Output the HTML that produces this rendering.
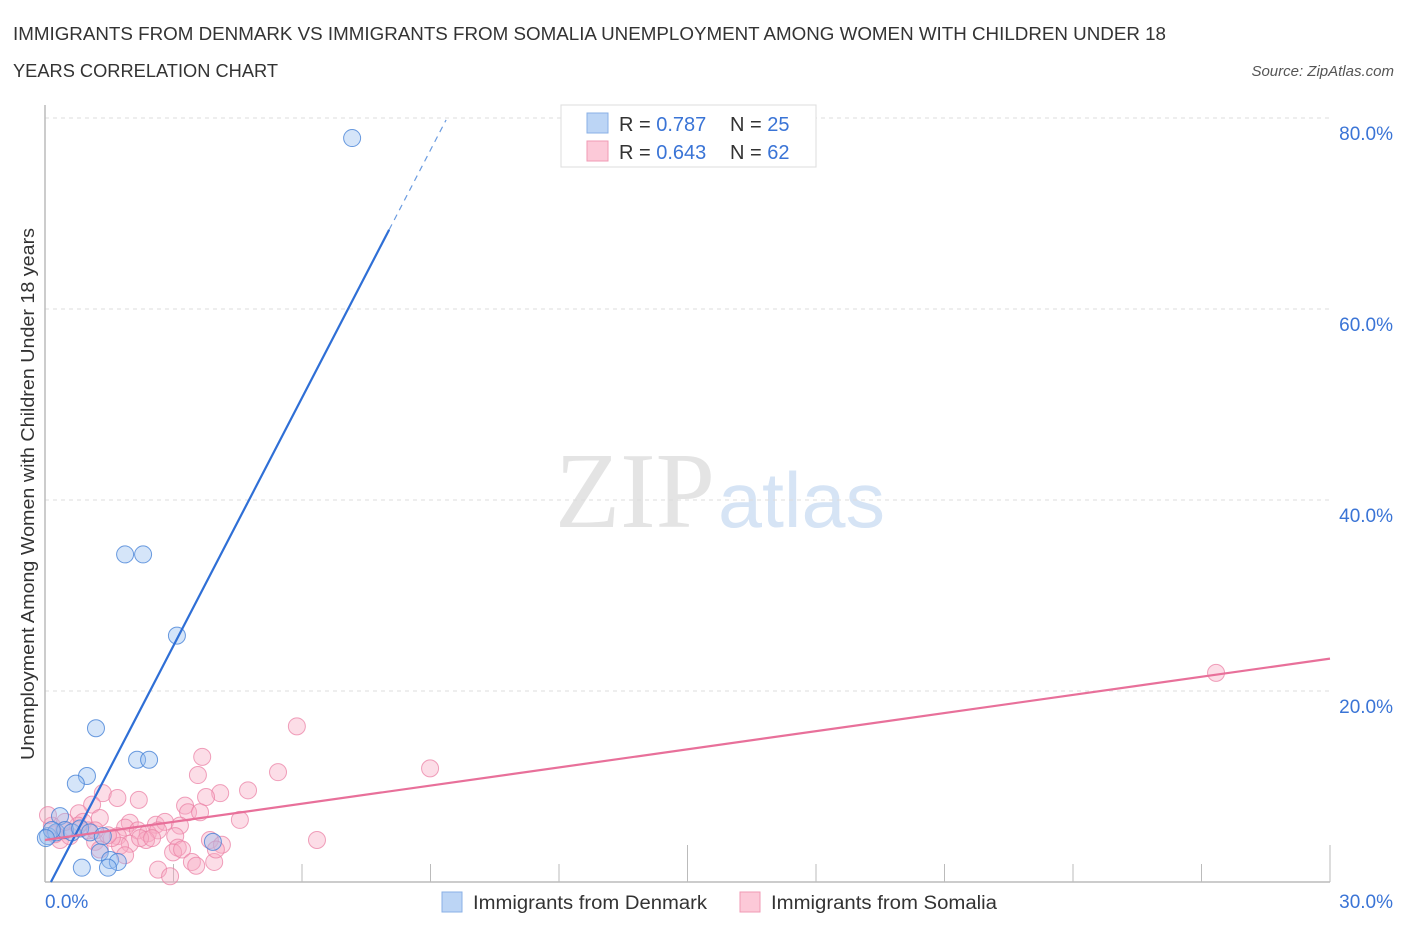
<!DOCTYPE html>
<html><head><meta charset="utf-8"><style>
body{margin:0;background:#fff;font-family:"Liberation Sans",sans-serif;}
svg{font-family:"Liberation Sans",sans-serif;}
</style></head><body>
<svg id="c" width="1406" height="930" xmlns="http://www.w3.org/2000/svg">
<text x="13" y="40" font-size="18" fill="#333" textLength="1153" lengthAdjust="spacingAndGlyphs">IMMIGRANTS FROM DENMARK VS IMMIGRANTS FROM SOMALIA UNEMPLOYMENT AMONG WOMEN WITH CHILDREN UNDER 18</text>
<text x="13" y="77" font-size="18" fill="#333" textLength="265" lengthAdjust="spacingAndGlyphs">YEARS CORRELATION CHART</text>
<text x="1394" y="76" font-size="15" font-style="italic" fill="#555" text-anchor="end">Source: ZipAtlas.com</text>
<text x="555" y="527" font-size="108" font-family="Liberation Serif,serif" fill="#e4e4e4" textLength="160" lengthAdjust="spacingAndGlyphs">ZIP</text>
<text x="718" y="527" font-size="78" fill="#d6e4f5" textLength="167" lengthAdjust="spacingAndGlyphs">atlas</text>
<text transform="translate(34,494) rotate(-90)" font-size="18" fill="#333" text-anchor="middle" textLength="532" lengthAdjust="spacingAndGlyphs">Unemployment Among Women with Children Under 18 years</text>
<g id="grid"></g><g id="pts"></g><g id="trend"></g>
<g>
<rect x="561" y="105" width="255" height="62" fill="#fff" stroke="#ddd"/>
<rect x="587" y="113" width="21" height="20" fill="#bcd5f5" stroke="#8ab0e6"/>
<rect x="587" y="141" width="21" height="20" fill="#fcc9d8" stroke="#f09ab4"/>
<text x="619" y="131" font-size="20" fill="#333">R = <tspan fill="#3a74d6">0.787</tspan><tspan x="730">N = </tspan><tspan fill="#3a74d6">25</tspan></text>
<text x="619" y="159" font-size="20" fill="#333">R = <tspan fill="#3a74d6">0.643</tspan><tspan x="730">N = </tspan><tspan fill="#3a74d6">62</tspan></text>
</g>
<g>
<rect x="442" y="892" width="20" height="20" fill="#bcd5f5" stroke="#8ab0e6"/>
<text x="473" y="909" font-size="19" fill="#333" textLength="234" lengthAdjust="spacingAndGlyphs">Immigrants from Denmark</text>
<rect x="740" y="892" width="20" height="20" fill="#fcc9d8" stroke="#f09ab4"/>
<text x="771" y="909" font-size="19" fill="#333" textLength="226" lengthAdjust="spacingAndGlyphs">Immigrants from Somalia</text>
</g>
</svg>
<script>
const yTicks=[20,40,60,80];
const yTickLabels=["20.0%","40.0%","60.0%","80.0%"];
const xTickLabels=["0.0%","30.0%"];
const denX=[7.17,1.87,2.29,3.08,1.19,2.15,2.43,0.98,0.72,0.35,0.07,0.26,0.47,0.63,0.82,1.05,1.35,1.28,1.52,1.70,0.86,1.47,3.92,0.16,0.02];
const denY=[77.9,34.3,34.3,25.8,16.1,12.8,12.8,11.1,10.3,6.9,4.8,5.2,5.45,5.2,5.6,5.2,4.8,3.1,2.3,2.1,1.5,1.5,4.2,5.45,4.6];
const somX=[27.34,5.88,8.99,3.67,5.44,3.57,4.74,4.09,3.76,1.35,1.10,1.69,2.19,3.27,3.34,3.62,0.79,1.28,0.89,1.98,2.59,2.80,3.15,1.87,2.17,2.40,2.64,1.70,3.04,2.36,1.98,1.75,1.17,0.35,0.16,0.07,0.58,1.56,3.85,4.13,3.10,2.99,3.20,1.87,1.28,3.43,3.53,3.95,2.64,2.92,6.35,1.00,1.47,0.44,0.77,2.22,1.17,3.99,0.47,2.50,4.55,0.23];
const somY=[21.9,16.3,11.9,13.1,11.5,11.2,9.6,9.3,8.9,9.3,8.1,8.8,8.6,8.0,7.3,7.3,7.2,6.7,6.3,6.2,6.0,6.3,5.9,5.7,5.4,5.1,5.4,4.8,4.8,4.4,4.0,3.8,4.2,4.4,5.9,7.0,4.8,4.6,4.4,3.9,3.6,3.1,3.4,2.8,3.4,2.1,1.7,2.1,1.3,0.6,4.4,5.4,4.9,5.4,5.9,4.6,5.4,3.4,6.3,4.6,6.5,5.0];
const denTrend=[-1.2,8.65];
const somTrend=[4.4,0.633];
const NS="http://www.w3.org/2000/svg";
const X=v=>45+v*42.833, Y=v=>882-v*9.55;
function mk(t,a,p){const e=document.createElementNS(NS,t);for(const k in a)e.setAttribute(k,a[k]);p.appendChild(e);return e;}
const g=document.getElementById('grid');
yTicks.forEach((t,i)=>{
 const l=mk('line',{x1:45,x2:1330,y1:Y(t),y2:Y(t),stroke:'#ddd','stroke-dasharray':'4,4'},g);
 
 
 const tx=mk('text',{x:1393,y:Y(t)+22,'font-size':19,fill:'#3a74d6','text-anchor':'end'},g);
 tx.textContent=yTickLabels[i];
 
 
});
const ax=mk('line',{x1:45,x2:1330,y1:882,y2:882,stroke:'#bbb','stroke-width':1.5},g);


const ay=mk('line',{x1:45,x2:45,y1:105,y2:882,stroke:'#bbb','stroke-width':1.5},g);


for(let k=1;k<=10;k++){const big=(k===5||k===10);const t=mk('line',{x1:X(k*3),x2:X(k*3),y1:big?845:864,y2:882,stroke:'#bbb'},g);
 
 }
[[0,'start',45],[1,'end',1393]].forEach(([i,a,x])=>{const t=mk('text',{x:x,y:908,'font-size':19,fill:'#3a74d6','text-anchor':a},g);t.textContent=xTickLabels[i];
 
 });
const p=document.getElementById('pts');
somX.forEach((v,i)=>{const c=mk('circle',{cx:X(v),cy:Y(somY[i]),r:8.5,fill:'rgba(248,170,195,0.4)',stroke:'rgba(235,130,165,0.75)','stroke-width':1},p);
 
 });
denX.forEach((v,i)=>{const c=mk('circle',{cx:X(v),cy:Y(denY[i]),r:8.5,fill:'rgba(150,190,240,0.4)',stroke:'rgba(70,130,215,0.8)','stroke-width':1},p);
 
 });
const tr=document.getElementById('trend');
const f=(t,x)=>t[0]+t[1]*x;
const dx0=(0-denTrend[0])/denTrend[1], dx1=(68.3-denTrend[0])/denTrend[1], dx2=(79.8-denTrend[0])/denTrend[1];
let tl=mk('line',{x1:X(dx0),y1:Y(0),x2:X(dx1),y2:Y(f(denTrend,dx1)),stroke:'#2f6fd6','stroke-width':2.2},tr);


tl=mk('line',{x1:X(dx1),y1:Y(f(denTrend,dx1)),x2:X(dx2),y2:Y(f(denTrend,dx2)),stroke:'#6a9be0','stroke-width':1.2,'stroke-dasharray':'6,5'},tr);


tl=mk('line',{x1:X(0),y1:Y(f(somTrend,0)),x2:X(30),y2:Y(f(somTrend,30)),stroke:'#e8709a','stroke-width':2.2},tr);


</script>
</body></html>
